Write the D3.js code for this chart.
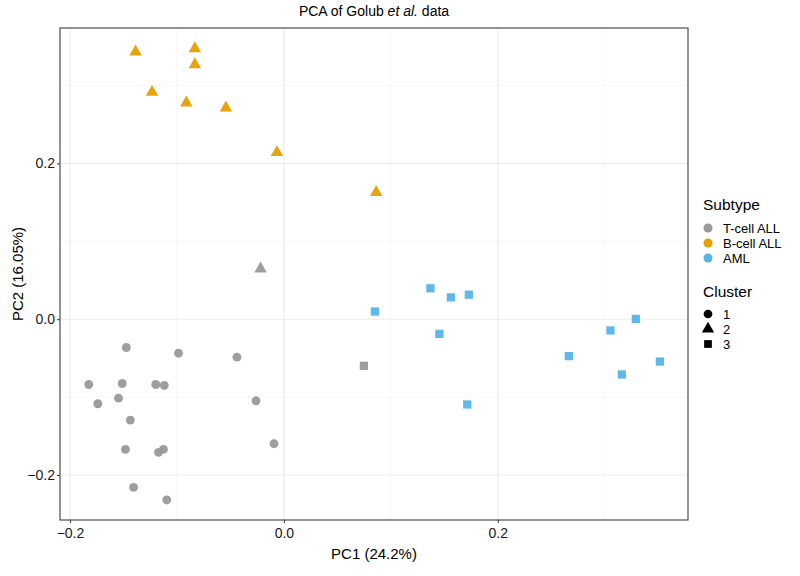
<!DOCTYPE html>
<html><head><meta charset="utf-8">
<script src="https://cdn.jsdelivr.net/npm/d3@7"></script>
<style>body{margin:0;background:#fff;} text{font-family:"Liberation Sans",Arial,Helvetica,sans-serif;}</style>
</head><body><svg id="c" width="800" height="576"></svg>
<script>
// Data
const subtypes = ["T-cell ALL", "B-cell ALL", "AML"];
const subtypeColors = ["#999999", "#E69F00", "#56B4E9"];
const clusters = ["1", "2", "3"];
const pc1 = [
  -0.1473,-0.0985,-0.0439,-0.1824,-0.1511,-0.1198,-0.1118,-0.1546,-0.1740,-0.0260,-0.1435,-0.0092,-0.1481,-0.1126,-0.1172,-0.1405,-0.1095,
  -0.0218, 0.0748,
  -0.1386,-0.0832,-0.0832,-0.1233,-0.0912,-0.0542,-0.0065, 0.0863,
   0.1370, 0.1561, 0.1729, 0.0851, 0.3290, 0.3053, 0.1454, 0.2664, 0.3515, 0.3160, 0.1714
];
const pc2 = [
  -0.0363,-0.0436,-0.0487,-0.0838,-0.0825,-0.0838,-0.0850,-0.1013,-0.1085,-0.1047,-0.1295,-0.1598,-0.1671,-0.1671,-0.1709,-0.2158,-0.2320,
   0.0647,-0.0598,
   0.3432, 0.3474, 0.3269, 0.2915, 0.2778, 0.2714, 0.2141, 0.1628,
   0.0397, 0.0280, 0.0315, 0.0099, 0.0004,-0.0144,-0.0188,-0.0474,-0.0543,-0.0709,-0.1094
];
const subtypeOf = [
  "T-cell ALL","T-cell ALL","T-cell ALL","T-cell ALL","T-cell ALL","T-cell ALL","T-cell ALL","T-cell ALL","T-cell ALL","T-cell ALL","T-cell ALL","T-cell ALL","T-cell ALL","T-cell ALL","T-cell ALL","T-cell ALL","T-cell ALL",
  "T-cell ALL","T-cell ALL",
  "B-cell ALL","B-cell ALL","B-cell ALL","B-cell ALL","B-cell ALL","B-cell ALL","B-cell ALL","B-cell ALL",
  "AML","AML","AML","AML","AML","AML","AML","AML","AML","AML","AML"
];
const clusterOf = [
  "1","1","1","1","1","1","1","1","1","1","1","1","1","1","1","1","1",
  "2","3",
  "2","2","2","2","2","2","2","2",
  "3","3","3","3","3","3","3","3","3","3","3"
];
const xTicks = [-0.2, 0.0, 0.2];
const yTicks = [-0.2, 0.0, 0.2];
const xMinor = [-0.1, 0.1, 0.3];
const yMinor = [-0.1, 0.1, 0.3];
const xDomain = [-0.2093, 0.3778];
const yDomain = [-0.2577, 0.3738];

const svg = d3.select("#c");
const L = 60, R = 688, T = 28, B = 520;
const x = d3.scaleLinear().domain(xDomain).range([L, R]);
const y = d3.scaleLinear().domain(yDomain).range([B, T]);
const color = d3.scaleOrdinal().domain(subtypes).range(subtypeColors);
const shape = d3.scaleOrdinal().domain(clusters).range([d3.symbolCircle, d3.symbolTriangle, d3.symbolSquare]);
const sizes = {"1": 62, "2": 68, "3": 68};

// gridlines
const g = svg.append("g");
g.selectAll(".xm").data(xMinor).join("line").attr("x1", d => x(d)).attr("x2", d => x(d)).attr("y1", T).attr("y2", B)
  .attr("stroke", "#f2f2f2").attr("stroke-width", 0.6);
g.selectAll(".ym").data(yMinor).join("line").attr("y1", d => y(d)).attr("y2", d => y(d)).attr("x1", L).attr("x2", R)
  .attr("stroke", "#f2f2f2").attr("stroke-width", 0.6);
g.selectAll(".xM").data(xTicks).join("line").attr("x1", d => x(d)).attr("x2", d => x(d)).attr("y1", T).attr("y2", B)
  .attr("stroke", "#ebebeb").attr("stroke-width", 1.1);
g.selectAll(".yM").data(yTicks).join("line").attr("y1", d => y(d)).attr("y2", d => y(d)).attr("x1", L).attr("x2", R)
  .attr("stroke", "#ebebeb").attr("stroke-width", 1.1);

// axes
const fmt = d => d3.format(".1f")(d).replace("-", "\u2212");
const xAxis = svg.append("g").attr("transform", `translate(0,${B})`)
  .call(d3.axisBottom(x).tickValues(xTicks).tickFormat(fmt).tickSize(3).tickSizeOuter(0));
const yAxis = svg.append("g").attr("transform", `translate(${L},0)`)
  .call(d3.axisLeft(y).tickValues(yTicks).tickFormat(fmt).tickSize(3).tickSizeOuter(0));
[xAxis, yAxis].forEach(a => {
  a.select(".domain").remove();
  a.selectAll(".tick line").attr("stroke", "#333333");
  a.selectAll(".tick text").attr("fill", "#1a1a1a").style("font-size", "14px")
    .style("font-family", "'Liberation Sans', Arial, sans-serif");
});
xAxis.selectAll(".tick text").attr("dy", "0.95em").attr("y", 5);
yAxis.selectAll(".tick text").attr("x", -5);

// points
const pts = pc1.map((v, i) => ({x: v, y: pc2[i], s: subtypeOf[i], c: clusterOf[i]}));
svg.append("g").selectAll("path").data(pts).join("path")
  .attr("d", d => d3.symbol().type(shape(d.c)).size(sizes[d.c])())
  .attr("transform", d => `translate(${x(d.x)},${y(d.y)})`)
  .attr("fill", d => color(d.s)).attr("fill-opacity", 0.95);

// panel border
svg.append("rect").attr("x", L).attr("y", T).attr("width", R - L).attr("height", B - T)
  .attr("fill", "none").attr("stroke", "#4d4d4d").attr("stroke-width", 1.2);

// title
const title = svg.append("text").attr("x", (L + R) / 2).attr("y", 16).attr("text-anchor", "middle")
  .style("font-size", "14px").attr("fill", "#000");
title.append("tspan").text("PCA of Golub ");
title.append("tspan").style("font-style", "italic").text("et al.");
title.append("tspan").text(" data");

// axis titles
svg.append("text").attr("x", (L + R) / 2).attr("y", 559).attr("text-anchor", "middle")
  .style("font-size", "15px").attr("fill", "#000").text("PC1 (24.2%)");
svg.append("text").attr("transform", `translate(23,${(T + B) / 2}) rotate(-90)`).attr("text-anchor", "middle")
  .style("font-size", "15px").attr("fill", "#000").text("PC2 (16.05%)");

// legends
const lg = svg.append("g");
lg.append("text").attr("x", 703).attr("y", 210).style("font-size", "15.5px").text("Subtype");
subtypes.forEach((s, i) => {
  const yy = 228 + i * 15;
  lg.append("path").attr("d", d3.symbol().type(d3.symbolCircle).size(64)())
    .attr("transform", `translate(708,${yy})`).attr("fill", color(s));
  lg.append("text").attr("x", 723).attr("y", yy + 4.5).style("font-size", "13px").text(s);
});
lg.append("text").attr("x", 703).attr("y", 297).style("font-size", "15.5px").text("Cluster");
clusters.forEach((c, i) => {
  const yy = 314 + i * 15;
  lg.append("path").attr("d", d3.symbol().type(shape(c)).size(c === "2" ? 66 : 60)())
    .attr("transform", `translate(708,${yy})`).attr("fill", "#000");
  lg.append("text").attr("x", 723).attr("y", yy + 4.5).style("font-size", "13px").text(c);
});
</script></body></html>
